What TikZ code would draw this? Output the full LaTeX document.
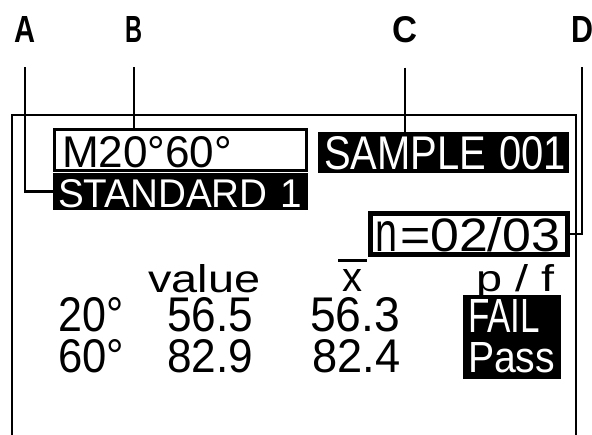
\documentclass[tikz,border=0pt]{standalone}
\usepackage{fontspec}
\usepackage{graphicx}
\setmainfont{Liberation Sans}
\usetikzlibrary{positioning,calc}
\newcommand{\lcd}[3]{\resizebox{#1pt}{#2pt}{#3}}

\begin{document}
\begin{tikzpicture}[x=1pt,y=-1pt,
  lbl/.style={inner sep=0pt,anchor=base,font=\bfseries},
  lead/.style={line width=2.5pt},
  inv/.style={fill=black,text=white,inner ysep=0pt,outer sep=0pt,anchor=base west,align=left},
  outl/.style={draw,fill=white,inner ysep=0pt,outer sep=0pt,anchor=base west,align=left},
  txt/.style={inner sep=0pt,anchor=base west}]
  \useasboundingbox (0,0) rectangle (592,435);
  % screen frame
  \draw[lead] (12,435) |- (576,115) -- (576,435);
  % callout letters
  \node[lbl] (A) at (25,43) {\lcd{21}{26}{A}};
  \node[lbl] (B) at (134,43) {\lcd{17}{26}{B}};
  \node[lbl] (C) at (405,43) {\lcd{25}{26}{C}};
  \node[lbl] (D) at (582,43) {\lcd{22}{26}{D}};
  % header fields
  \node[outl,line width=3pt,inner xsep=8pt,text width=236pt,text height=38pt,text depth=3pt] (mode) at (54,168) {\lcd{170}{31}{M20°60°}};
  \node[inv,inner xsep=5pt,text width=245pt,text height=35pt,text depth=2pt] (std) at (53,208) {\lcd{244}{28}{STANDARD 1}};
  \node[inv,inner xsep=6pt,text width=239pt,text height=38pt,text depth=3pt] (sample) at (318,170) {\lcd{242}{33}{SAMPLE 001}};
  \node[outl,line width=5pt,inner xsep=4.5pt,text width=188pt,text height=38.5pt,text depth=2.5pt] (cnt) at (370.5,252) {\lcd{22}{30}{n}\hspace{3pt}\lcd{160}{34}{=02/03}};
  % table
  \node[txt] (val) at (148,293) {\lcd{112}{28}{value}};
  \node[txt] (xbar) at (338,292) {\vbox{\hrule height 3pt width 29pt\vskip 8pt\hbox to 29pt{\hss\lcd{20}{22}{x}\hss}}};
  \node[txt] (pfh) at (476,292) {\lcd{78}{27}{p / f}};
  \node[txt] (ang1) at (58,332) {\lcd{65}{34}{20°}};
  \node[txt] (val1) at (167,332) {\lcd{86}{34}{56.5}};
  \node[txt] (avg1) at (310,332) {\lcd{90}{34}{56.3}};
  \node[txt] (ang2) at (58,373) {\lcd{66}{33}{60°}};
  \node[txt] (val2) at (167,373) {\lcd{86}{33}{82.9}};
  \node[txt] (avg2) at (312,373) {\lcd{88}{33}{82.4}};
  \node[inv,inner xsep=5pt,text width=88pt,text height=38pt,text depth=46pt,font=\fontsize{10}{10}\selectfont] (res) at (463,333) {\lcd{72}{33}{FAIL}\\[8pt]\lcd{87}{30}{Pass}};
  % leaders
  \draw[lead] ([yshift=-24pt]A.south) |- (std.west);
  \draw[lead] ([yshift=-24pt]B.south) -- (B.south |- mode.north);
  \draw[lead] ([yshift=-24pt]C.south) -- (C.south |- sample.north);
  \draw[lead] ([yshift=-24pt]D.south) |- (cnt.east);
\end{tikzpicture}
\end{document}
